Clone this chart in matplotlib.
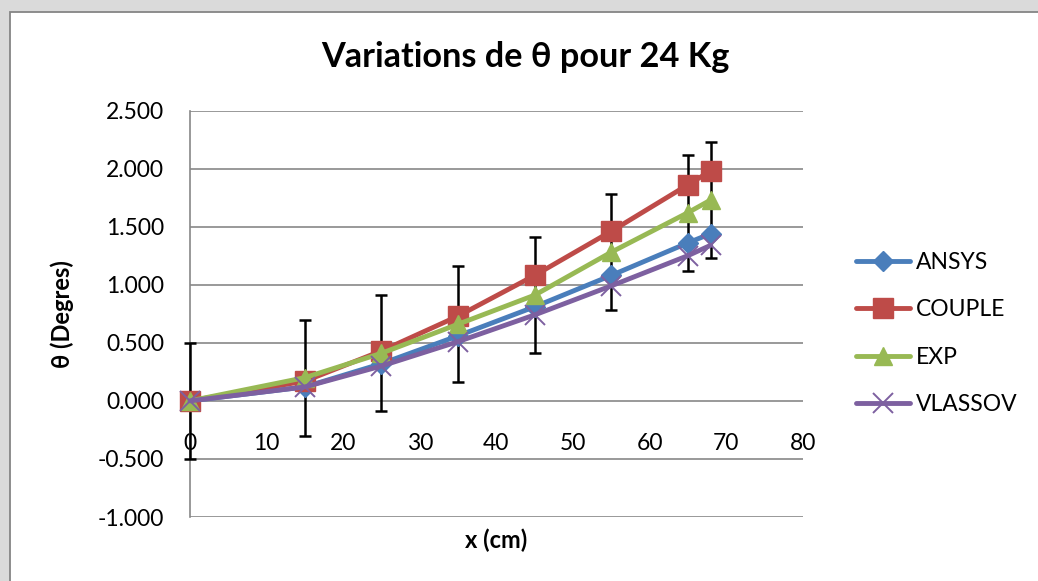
import matplotlib
matplotlib.use("Agg")
import matplotlib.pyplot as plt
from matplotlib.patches import Rectangle
from matplotlib.ticker import FuncFormatter, MultipleLocator

plt.rcParams['font.family'] = ['Lato', 'DejaVu Sans']

# Positions along the beam (cm)
x_cm = [0, 15, 25, 35, 45, 55, 65, 68]

# Rotation theta (degrees) for a 24 kg load
ansys = [0.00, 0.12, 0.32, 0.56, 0.81, 1.08, 1.36, 1.44]
couple = [0.00, 0.17, 0.43, 0.73, 1.08, 1.46, 1.86, 1.98]
exp = [0.00, 0.20, 0.41, 0.66, 0.91, 1.28, 1.62, 1.73]
vlassov = [0.00, 0.12, 0.30, 0.51, 0.74, 0.99, 1.25, 1.34]
exp_err = 0.5

series_names = ["ANSYS", "COUPLE", "EXP", "VLASSOV"]
title_text = "Variations de θ pour 24 Kg"
xlabel_text = "x (cm)"
ylabel_text = "θ (Degres)"

W, H = 1038, 581
fig = plt.figure(figsize=(W / 100, H / 100), dpi=100)
fig.patch.set_facecolor("#dadada")

# White chart sheet with its grey frame
fig.patches.append(Rectangle((10 / W, -0.05), 1.1, 1 - 12 / H + 0.05,
                             transform=fig.transFigure, facecolor="white",
                             edgecolor="#858585", linewidth=1.3, zorder=-5))

ax = fig.add_axes([190 / W, 1 - 517 / H, (802.7 - 190) / W, (517 - 110.5) / H])
ax.set_facecolor("none")
ax.set_zorder(1)

grid_c = "#878787"
ax.set_xlim(0, 80)
ax.set_ylim(-1.0, 2.5)
ax.yaxis.set_major_locator(MultipleLocator(0.5))
ax.xaxis.set_major_locator(MultipleLocator(10))
ax.yaxis.set_major_formatter(FuncFormatter(lambda v, _: f"{v:.3f}"))
ax.xaxis.set_major_formatter(FuncFormatter(lambda v, _: f"{v:.0f}"))
ax.grid(axis="y", color=grid_c, linewidth=1.2, zorder=0)
ax.set_axisbelow(True)

for s in ("top", "right"):
    ax.spines[s].set_visible(False)
ax.spines["left"].set_color(grid_c)
ax.spines["left"].set_linewidth(1.2)
ax.spines["left"].set_zorder(1)
ax.spines["bottom"].set_position(("data", 0))
ax.spines["bottom"].set_visible(False)

ax.tick_params(axis="y", length=0, pad=18.5, labelsize=16.5)
ax.tick_params(axis="x", length=0, pad=23.5, labelsize=16.5)

colors = {"ANSYS": "#4a7ebb", "COUPLE": "#be4b48", "EXP": "#98b954", "VLASSOV": "#7d60a0"}

# Error bars on the experimental series, drawn under the curves
eb = ax.errorbar(x_cm, exp, yerr=exp_err, fmt="none", ecolor="black",
                 elinewidth=1.8, capsize=4.3, capthick=1.8, zorder=2.8)
for part in eb.lines[1] + eb.lines[2]:
    part.set_clip_on(False)
    part.set_zorder(2.8)

lw = 3.5
lines = [
    ax.plot(x_cm, ansys, color=colors["ANSYS"], lw=lw, marker="D", ms=10,
            mec=colors["ANSYS"], label="ANSYS", solid_capstyle="round", zorder=3),
    ax.plot(x_cm, couple, color=colors["COUPLE"], lw=lw, marker="s", ms=14,
            mec=colors["COUPLE"], label="COUPLE", solid_capstyle="round", zorder=3.1),
    ax.plot(x_cm, exp, color=colors["EXP"], lw=lw, marker="^", ms=13,
            mec=colors["EXP"], label="EXP", solid_capstyle="round", zorder=3.2),
    ax.plot(x_cm, vlassov, color=colors["VLASSOV"], lw=lw, marker="x", ms=14,
            mew=1.4, mec=colors["VLASSOV"], label="VLASSOV", solid_capstyle="round", zorder=3.3),
]
for ln in lines:
    ln[0].set_clip_on(False)

ax.set_xlabel(xlabel_text, fontsize=17, fontweight="bold", va="center")
ax.xaxis.set_label_coords(0.5, -(540 - 517) / (517 - 110.5))
ax.set_ylabel(ylabel_text, fontsize=17, fontweight="bold", va="center")
ax.yaxis.set_label_coords(-(190 - 62) / (802.7 - 190), 0.5)

fig.text(525 / W, 1 - 67 / H, title_text, fontsize=24.7, fontweight="bold",
         ha="center", va="baseline")

leg = ax.legend(loc="center left", bbox_to_anchor=(856 / W, 1 - 333.5 / H),
                bbox_transform=fig.transFigure, frameon=False, fontsize=16.5,
                numpoints=1, handlelength=2.36, handletextpad=0.26,
                labelspacing=1.15, borderpad=0, borderaxespad=0)

fig.savefig("out.png", dpi=100)
